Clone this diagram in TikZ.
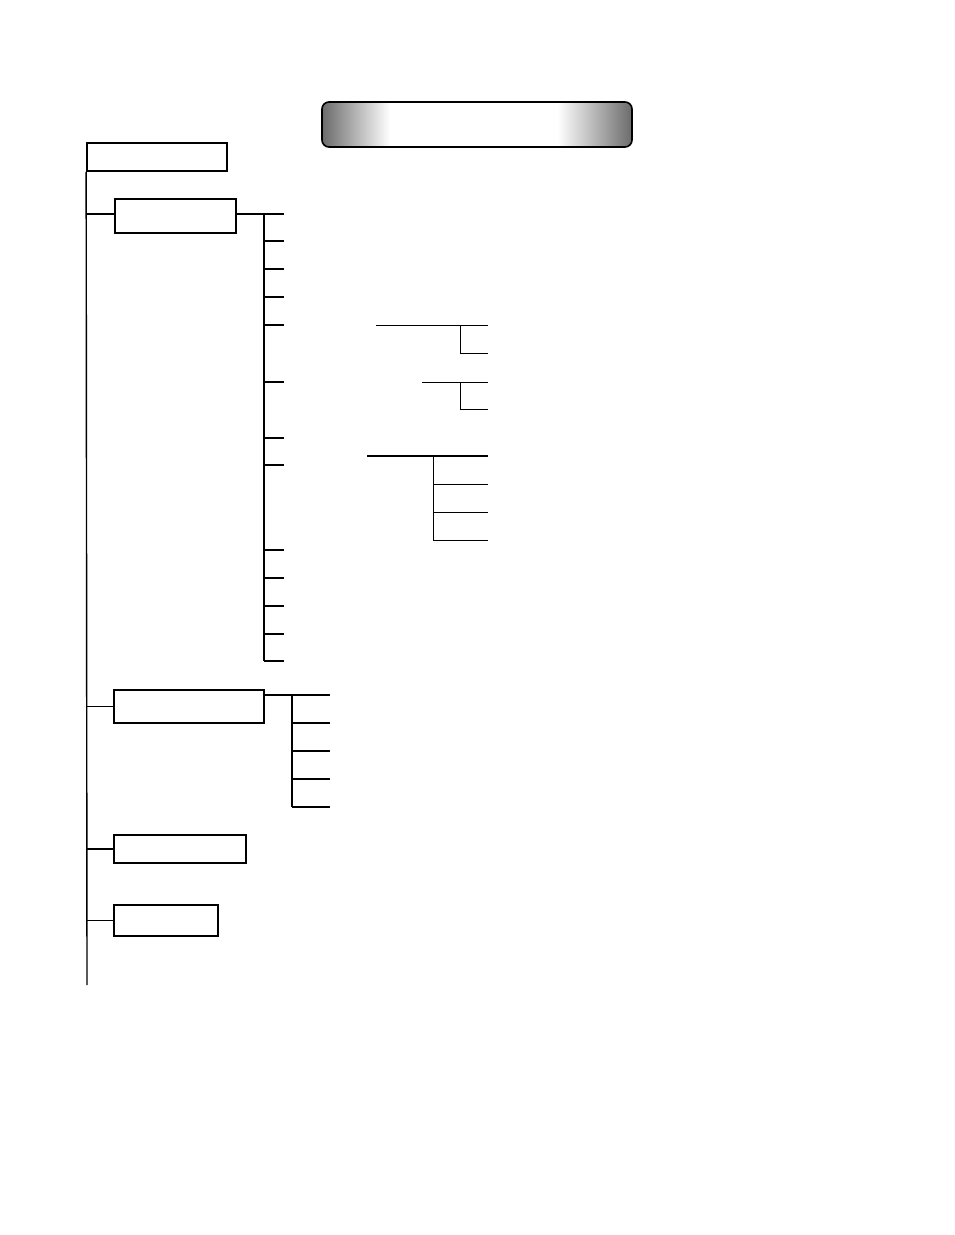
\documentclass[tikz,border=0pt]{standalone}
\usepackage{tikz}
\usetikzlibrary{positioning}

% gray - white - gray band for the heading bar
\pgfdeclarehorizontalshading{titlebar}{100bp}{color(0bp)=(black!58); color(25bp)=(black!58); color(36bp)=(white); color(63bp)=(white); color(75bp)=(black!58); color(100bp)=(black!58)}

\tikzset{
  box/.style = {draw, line width=1.7pt, inner sep=0pt},
  titlebar/.style = {draw, line width=1.6pt, rounded corners=7pt, shading=titlebar, inner sep=0pt},
  trunk/.style = {line width=1.4pt},
  tick/.style = {line width=1.7pt},
  thin/.style = {line width=1pt}
}

\begin{document}
\begin{tikzpicture}[x=1pt, y=-1pt]
    \useasboundingbox (0,0) rectangle (954,1235);

    \node [titlebar, minimum width=310pt, minimum height=45pt] (title) at (477,124.5) {};

    \node [box, minimum width=140pt, minimum height=28pt] (root) at (157,157) {};
    \node [box, minimum width=121pt, minimum height=34pt] (general) at (175.5,216) {};
    \node [box, minimum width=150pt, minimum height=33pt] (second) at (189,706.5) {};
    \node [box, minimum width=132pt, minimum height=28pt] (third) at (180,849) {};
    \node [box, minimum width=104pt, minimum height=31pt] (fourth) at (166,920.5) {};

    % main trunk
    \coordinate (trunkend) at (87,985);
    \coordinate (forkA) at (264,214);
    \draw [trunk] (root.south west) -- (trunkend);
    \draw [tick] (root.south west |- forkA) -- (general.west |- forkA);
    \foreach \n in {second, third, fourth}
      \draw [tick] (root.south west |- \n.west) -- (\n.west);

    % first group
    \coordinate (forkAend) at (264,661);
    \draw [tick] (general.east |- forkA) -- (forkA);
    \draw [line width=2.4pt] (forkA) -- (forkAend);
    \foreach \y [count=\i] in {214,241,269,297,325,382,438,465,550,578,606,634,661} {
      \coordinate (ta\i) at (264,\y);
      \coordinate (tb\i) at (284,\y);
      \draw [tick] (ta\i) -- (tb\i);
    }

    % sub branches
    \coordinate (s1) at (376,325);
    \coordinate (s1e) at (488,325);
    \coordinate (s1f) at (460,325);
    \coordinate (s1g) at (460,353);
    \coordinate (s1h) at (488,353);
    \draw [thin] (s1) -- (s1e);
    \draw [thin] (s1f) -- (s1g) -- (s1h);

    \coordinate (s2) at (422,382);
    \coordinate (s2e) at (488,382);
    \coordinate (s2f) at (460,382);
    \coordinate (s2g) at (460,409);
    \coordinate (s2h) at (488,409);
    \draw [thin] (s2) -- (s2e);
    \draw [thin] (s2f) -- (s2g) -- (s2h);

    \coordinate (s3) at (367,456);
    \coordinate (s3e) at (488,456);
    \coordinate (s3f) at (433,456);
    \coordinate (s3g) at (433,540);
    \draw [line width=2pt] (s3) -- (s3e);
    \draw [thin] (s3f) -- (s3g);
    \foreach \y [count=\i] in {484,512,540} {
      \coordinate (sc\i) at (433,\y);
      \coordinate (sd\i) at (488,\y);
      \draw [thin] (sc\i) -- (sd\i);
    }

    % second group
    \coordinate (forkB) at (292,695);
    \coordinate (forkBend) at (292,807);
    \draw [tick] (second.east |- forkB) -- (forkB);
    \draw [tick] (forkB) -- (forkBend);
    \foreach \y [count=\i] in {695,723,751,779,807} {
      \coordinate (tc\i) at (292,\y);
      \coordinate (td\i) at (330,\y);
      \draw [tick] (tc\i) -- (td\i);
    }
\end{tikzpicture}
\end{document}
